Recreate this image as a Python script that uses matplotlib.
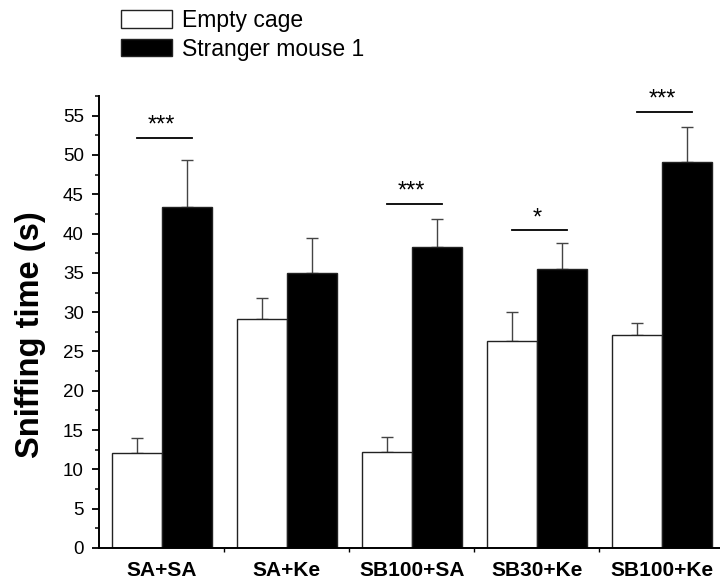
import matplotlib
matplotlib.use("Agg")
import matplotlib.pyplot as plt
import numpy as np
from matplotlib.ticker import MultipleLocator, FixedLocator

plt.rcParams['font.family'] = ['Liberation Sans', 'DejaVu Sans']

groups = ["SA+SA", "SA+Ke", "SB100+SA", "SB30+Ke", "SB100+Ke"]
empty_cage = [12.1, 29.1, 12.2, 26.3, 27.1]
empty_err = [1.9, 2.7, 1.9, 3.7, 1.5]
stranger = [43.4, 35.0, 38.3, 35.5, 49.1]
stranger_err = [6.0, 4.4, 3.6, 3.3, 4.4]
series_labels = ["Empty cage", "Stranger mouse 1"]
sig_groups = [0, 2, 3, 4]
sig_marks = ["***", "***", "*", "***"]
sig_line_y = [52.2, 43.8, 40.4, 55.5]

fig = plt.figure(figsize=(7.2, 5.84), dpi=100)
ax = fig.add_axes([99/720, 36/584, 625.5/720, 452/584])

x = np.arange(len(groups))
w = 0.4
ekw = dict(ecolor='#444444', elinewidth=1.0, capthick=1.0)
b1 = ax.bar(x - w/2, empty_cage, w, color='white', edgecolor='#222222', linewidth=1.0,
            label=series_labels[0], zorder=2)
b2 = ax.bar(x + w/2, stranger, w, color='black', edgecolor='#222222', linewidth=1.0,
            label=series_labels[1], zorder=2)
ax.errorbar(x - w/2, empty_cage, yerr=[np.zeros(len(x)), empty_err], fmt='none',
            capsize=4.3, zorder=1, **ekw)
ax.errorbar(x + w/2, stranger, yerr=[np.zeros(len(x)), stranger_err], fmt='none',
            capsize=4.3, zorder=1, **ekw)

for g, m, yl in zip(sig_groups, sig_marks, sig_line_y):
    ax.plot([g - 0.2, g + 0.24], [yl, yl], color='black', lw=1.3, clip_on=False)
    ax.annotate(m, xy=(g, yl), xytext=(0, 4.5), textcoords='offset points',
                ha='center', va='baseline', fontsize=17, annotation_clip=False)

ax.set_xlim(-0.5, 4.5)
ax.set_ylim(0, 57.5)
ax.set_xticks(x)
ax.set_xticklabels(groups, fontsize=15, fontweight='bold')
ax.xaxis.set_minor_locator(FixedLocator([0.5, 1.5, 2.5, 3.5]))
ax.tick_params(axis='x', which='major', length=0, pad=9)
ax.tick_params(axis='x', which='minor', length=3, width=1, direction='out')

ax.yaxis.set_major_locator(MultipleLocator(5))
ax.yaxis.set_minor_locator(MultipleLocator(2.5))
ax.tick_params(axis='y', which='major', length=5, width=1.3, labelsize=13.5, pad=6, direction='out')
ax.tick_params(axis='y', which='minor', length=3, width=1.1, direction='out')

for s in ['top', 'right']:
    ax.spines[s].set_visible(False)
for s in ['left', 'bottom']:
    ax.spines[s].set_linewidth(1.4)

ax.set_ylabel("Sniffing time (s)", fontsize=23.5, fontweight='bold')
ax.yaxis.set_label_coords(-53/625.5, (548 - 335)/452)

fig.legend(handles=[b1, b2], labels=series_labels, loc='upper left',
           bbox_to_anchor=(121/720, 1 - 9/584), frameon=False, fontsize=16.5,
           handlelength=2.23, handleheight=0.79, handletextpad=0.45,
           labelspacing=0.25, borderpad=0, borderaxespad=0)

fig.savefig("out.png", dpi=100)
